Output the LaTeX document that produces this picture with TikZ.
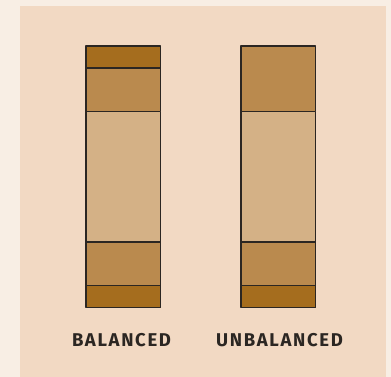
\documentclass[tikz,border=0pt]{standalone}
\usepackage{fontspec}
\newfontfamily\labelfont[LetterSpace=9]{Fira Sans Bold}
\definecolor{outerbg}{HTML}{F8EEE4}
\definecolor{panelbg}{HTML}{F2D9C3}
\definecolor{darkband}{HTML}{A56D1E}
\definecolor{midband}{HTML}{BA8A4E}
\definecolor{lightband}{HTML}{D4B186}
\definecolor{edge}{HTML}{2B2622}
\tikzset{
  band/.style={draw=edge,line width=1.3pt},
  barlabel/.style={font=\labelfont\fontsize{18.5}{18.5}\selectfont,text=edge,inner sep=0pt,anchor=base}
}
\begin{document}
\begin{tikzpicture}[x=1pt,y=-1pt,line join=round]
  \useasboundingbox (0,0) rectangle (391,377);
  \fill[outerbg] (0,0) rectangle (391,377);
  \fill[panelbg] (20,6) rectangle (386,377);
  % balanced
  \draw[band,fill=darkband] (86,46) rectangle (160.7,68);
  \draw[band,fill=midband] (86,68) rectangle (160.7,111.3);
  \draw[band,fill=lightband] (86,111.3) rectangle (160.7,242);
  \draw[band,fill=midband] (86,242) rectangle (160.7,285.7);
  \draw[band,fill=darkband] (86,285.7) rectangle (160.7,307.7);
  % unbalanced
  \draw[band,fill=midband] (241,46) rectangle (315.7,111.3);
  \draw[band,fill=lightband] (241,111.3) rectangle (315.7,242);
  \draw[band,fill=midband] (241,242) rectangle (315.7,285.7);
  \draw[band,fill=darkband] (241,285.7) rectangle (315.7,307.7);
  \node[barlabel] (balanced) at (121.5,346.7) {BALANCED};
  \node[barlabel] (unbalanced) at (279.5,346.7) {UNBALANCED};
\end{tikzpicture}
\end{document}
